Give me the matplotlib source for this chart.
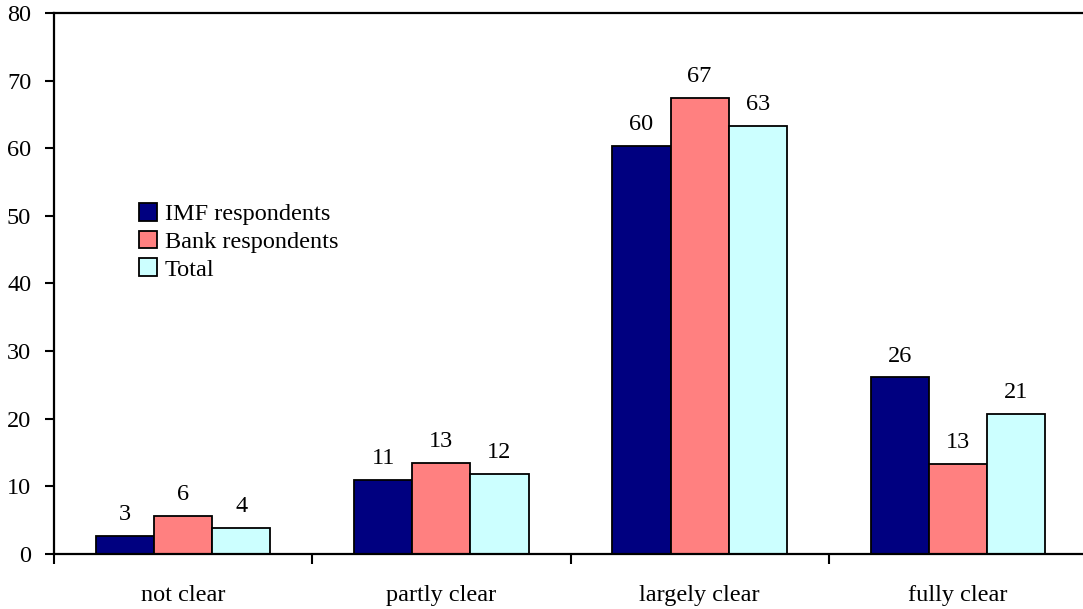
import numpy as np
import matplotlib.pyplot as plt

plt.rcParams['font.family'] = ['Liberation Serif', 'DejaVu Serif']

categories = ['not clear', 'partly clear', 'largely clear', 'fully clear']
series_names = ['IMF respondents', 'Bank respondents', 'Total']
imf = [2.7, 10.9, 60.4, 26.1]
bank = [5.6, 13.4, 67.4, 13.3]
total = [3.9, 11.9, 63.3, 20.7]
imf_labels = ['3', '11', '60', '26']
bank_labels = ['6', '13', '67', '13']
total_labels = ['4', '12', '63', '21']
colors = ['#000080', '#FF8080', '#CCFFFF']

fs = 17.5

fig = plt.figure(figsize=(10.83, 6.09), dpi=100)
ax = fig.add_axes([0.0499, 0.0903, 0.9538, 0.8884])

x = np.arange(len(categories))
w = 0.225
all_vals = [imf, bank, total]
all_labels = [imf_labels, bank_labels, total_labels]
for i, (vals, labs) in enumerate(zip(all_vals, all_labels)):
    xs = x + (i - 1) * w
    ax.bar(xs, vals, width=w, color=colors[i], edgecolor='black',
           linewidth=1.3, label=series_names[i], zorder=2)
    for xx, v, lab in zip(xs, vals, labs):
        ax.annotate(lab, (xx, v), xytext=(0, 11.5), textcoords='offset points',
                    ha='center', va='baseline', fontsize=fs)

ax.set_xlim(-0.5, len(categories) - 0.5)
ax.set_ylim(0, 80)
ax.set_yticks(range(0, 81, 10))
ax.tick_params(axis='y', labelsize=fs, direction='out', length=6.5, width=1.5, pad=10)

ax.set_xticks(x)
ax.set_xticklabels(categories)
ax.tick_params(axis='x', which='major', length=0, labelsize=fs, pad=22)
ax.set_xticks(np.arange(len(categories) + 1) - 0.5, minor=True)
ax.tick_params(axis='x', which='minor', length=7, width=1.5, direction='out')

for s in ['left', 'bottom', 'top']:
    ax.spines[s].set_linewidth(1.6)
ax.spines['right'].set_visible(False)

ax.legend(loc='upper left', bbox_to_anchor=(0.073, 0.667), frameon=False,
          fontsize=fs, handlelength=0.75, handleheight=0.75, handletextpad=0.3,
          labelspacing=0.22, borderaxespad=0)

fig.savefig('out.png', dpi=100)
